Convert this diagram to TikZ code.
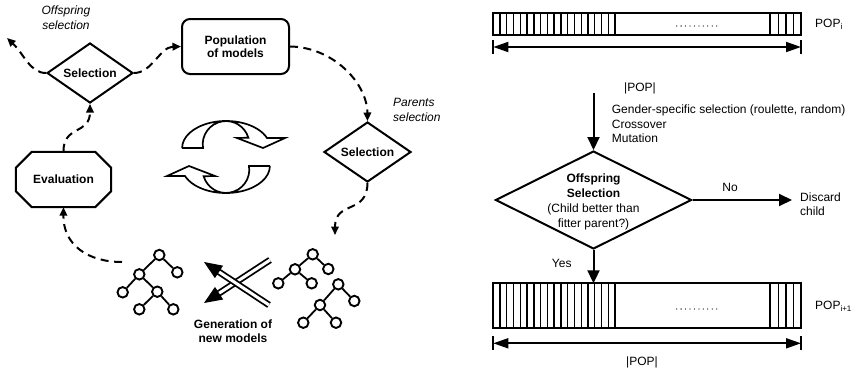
\documentclass[tikz,border=0pt]{standalone}
\usepackage{fontspec}
\setmainfont{Liberation Sans}
\usetikzlibrary{arrows.meta,shapes.geometric}
\begin{document}
\begin{tikzpicture}[x=1pt,y=1pt,
  lbl/.style={font=\fontsize{12}{14.5}\selectfont, inner sep=0pt, align=center},
  blbl/.style={inner sep=0pt, align=center, font=\fontsize{12}{13.5}\selectfont\bfseries},
  ilbl/.style={inner sep=0pt, font=\fontsize{12}{15}\selectfont\itshape},
  dia/.style={diamond, draw, line width=2pt, inner sep=0pt},
  conn/.style={line width=2pt, dash pattern=on 8pt off 5.5pt, -{Triangle[length=8.5pt,width=7.5pt]}},
  flow/.style={line width=2pt, -{Triangle[length=13pt,width=12pt]}},
  tn/.style={circle, draw, line width=1.9pt, minimum size=10.5pt, inner sep=0pt, fill=white},
  te/.style={line width=1.8pt},
  cyc/.style={draw, fill=white, line width=1.7pt, line join=miter},
  dbl/.style={draw, line width=1.8pt, double=white, double distance=3pt},
  barbox/.style={draw, line width=1.8pt, inner sep=0pt, outer sep=0pt, minimum width=307.7pt},
  hatch/.style={line width=1.3pt},
  span/.style={line width=1.8pt, {Triangle[length=15pt,width=10pt]}-{Triangle[length=15pt,width=10pt]}},
  endbar/.style={line width=2pt}]

\fill[white] (0,0) rectangle (855,-370);
\useasboundingbox (0,0) rectangle (855,-370);

% ---------------- evolutionary cycle ----------------
\node[dia, minimum width=86pt, minimum height=60pt] (sel1) at (90,-73) {};
\node[blbl] at (sel1) {Selection};

\node[draw, line width=2pt, rounded corners=8pt, minimum width=107pt,
      minimum height=55pt, blbl] (pop) at (235.5,-46.5) {Population\\of models};

\node[dia, minimum width=87pt, minimum height=60pt] (sel2) at (367.5,-152) {};
\node[blbl] at (sel2) {Selection};

\node[blbl, minimum width=95pt, minimum height=55pt] (eval) at (63.5,-179.5) {Evaluation};
\draw[line width=2pt, line join=miter]
  ([xshift=16pt]eval.north west) -- ([xshift=-16pt]eval.north east)
  -- ([yshift=-16pt]eval.north east) -- ([yshift=16pt]eval.south east)
  -- ([xshift=-16pt]eval.south east) -- ([xshift=16pt]eval.south west)
  -- ([yshift=16pt]eval.south west) -- ([yshift=-16pt]eval.north west) -- cycle;

\node[ilbl, align=center] (offlbl) at (66,-17.5) {Offspring\\selection};
\node[ilbl, align=left, anchor=west] (parlbl) at (393,-110) {Parents\\selection};

\coordinate (offtip) at (7,-38);
\coordinate (gentip) at (335,-235);
\coordinate (treeL) at (122,-262);

\draw[conn] (sel1.west) .. controls (30,-73) and (24,-54) .. (offtip);
\draw[conn] (sel1.east) .. controls (152,-73) and (160,-47) .. (pop.west);
\draw[conn] (pop.east) .. controls (332,-47) and (367,-82) .. (sel2.north);
\draw[conn] (sel2.south) .. controls (367,-215) and (335,-200) .. (gentip);
\draw[conn] (treeL) .. controls (88,-262) and (63,-245) .. (eval.south);
\draw[conn] (eval.north) .. controls (63,-125) and (90,-135) .. (sel1.south);

% circular arrows in the middle
\draw[cyc] (182,-148) -- (203,-148) arc[start angle=189, end angle=16.5, radius=23.3]
  -- (237,-138) -- (263,-148) -- (285,-138) -- (267,-138)
  arc[start angle=21.7, end angle=180, x radius=44, y radius=27] -- cycle;
\draw[cyc, rotate around={180:(226,-157)}] (182,-148) -- (203,-148)
  arc[start angle=189, end angle=16.5, radius=23.3]
  -- (237,-138) -- (263,-148) -- (285,-138) -- (267,-138)
  arc[start angle=21.7, end angle=180, x radius=44, y radius=27] -- cycle;

% model trees
\node[tn] (a1) at (159.3,-255) {};
\node[tn] (a2) at (139.3,-274.3) {};
\node[tn] (a3) at (177.3,-272.3) {};
\node[tn] (a4) at (122.7,-292.3) {};
\node[tn] (a5) at (157.3,-291.7) {};
\node[tn] (a6) at (139.3,-309.3) {};
\node[tn] (a7) at (173.3,-309.3) {};
\draw[te] (a1) -- (a2) (a1) -- (a3) (a2) -- (a4) (a2) -- (a5) (a5) -- (a6) (a5) -- (a7);

\node[tn] (b1) at (312.7,-254.3) {};
\node[tn] (b2) at (295,-269.3) {};
\node[tn] (b3) at (328.3,-269) {};
\node[tn] (b4) at (278.3,-283.3) {};
\node[tn] (b5) at (311.7,-283.3) {};
\draw[te] (b1) -- (b2) (b1) -- (b3) (b2) -- (b4) (b2) -- (b5);

\node[tn] (c1) at (338.3,-284.3) {};
\node[tn] (c2) at (320,-305) {};
\node[tn] (c3) at (354.3,-301) {};
\node[tn] (c4) at (303.3,-322.7) {};
\node[tn] (c5) at (336,-322.7) {};
\draw[te] (c1) -- (c2) (c1) -- (c3) (c2) -- (c4) (c2) -- (c5);

% crossed double arrows
\coordinate (xa0) at (270,-260);
\coordinate (xab) at (217.4,-294.3);
\coordinate (xb0) at (269,-305);
\coordinate (xbb) at (217.3,-270.8);
\path[dbl] (xa0) -- (xab);
\fill (204,-303) -- (223.2,-299.5) -- (215.0,-286.9) -- cycle;
\path[dbl] (xb0) -- (xbb);
\fill (204,-262) -- (223.1,-265.7) -- (214.9,-278.1) -- cycle;

\node[blbl, font=\fontsize{12}{14}\selectfont\bfseries] (genlbl) at (233,-331) {Generation of\\new models};

% ---------------- population scheme ----------------
\node[barbox, minimum height=22.3pt] (bar1) at (647.15,-23.85) {};
\foreach \k in {1,...,18} \draw[hatch] (493.3+\k*6.76,-12.7) -- (493.3+\k*6.76,-35);
\foreach \xx in {770,778.3,786,793.3} \draw[hatch] (\xx,-12.7) -- (\xx,-35);
\foreach \k in {0,...,9} \fill (676.7+\k*4.44,-26) circle (0.65);
\node[lbl, anchor=west] (pop1) at (815,-24) {POP\textsubscript{i}};

\coordinate (s1l) at (493.3,-47);
\coordinate (s1r) at (801,-47);
\draw[span] (s1l) -- (s1r);
\draw[endbar] ([yshift=7pt]s1l) -- ([yshift=-7pt]s1l);
\draw[endbar] ([yshift=7pt]s1r) -- ([yshift=-7pt]s1r);
\node[lbl] (siz1) at (640,-88) {|POP|};

\node[lbl, align=left, anchor=west] (ops) at (611.7,-124)
  {Gender-specific selection (roulette, random)\\Crossover\\Mutation};

\node[dia, minimum width=196pt, minimum height=98pt] (osel) at (593.5,-200) {};
\node[lbl, font=\fontsize{12}{14.8}\selectfont] (oseltxt) at (593.5,-202)
  {\textbf{Offspring}\\\textbf{Selection}\\(Child better than\\fitter parent?)};

\coordinate (gstart) at (593.5,-93);
\draw[flow] (gstart) -- (osel.north);

\coordinate (disc) at (792,-200);
\draw[flow] (osel.east) -- (disc);
\node[lbl] (nolbl) at (730,-187) {No};
\node[lbl, align=left, anchor=west] (disclbl) at (800,-204) {Discard\\child};

\node[barbox, minimum height=45pt] (bar2) at (647.15,-305.8) {};
\foreach \k in {1,...,18} \draw[hatch] (493.3+\k*6.76,-283.3) -- (493.3+\k*6.76,-328.3);
\foreach \xx in {770,778.3,786,793.3} \draw[hatch] (\xx,-283.3) -- (\xx,-328.3);
\foreach \k in {0,...,9} \fill (676.7+\k*4.44,-309) circle (0.65);
\node[lbl, anchor=west] (pop2) at (815,-306) {POP\textsubscript{i+1}};

\draw[flow] (osel.south) -- (osel.south |- bar2.north);
\node[lbl] (yeslbl) at (561.7,-263) {Yes};

\coordinate (s2l) at (493.3,-343.3);
\coordinate (s2r) at (801,-343.3);
\draw[span] (s2l) -- (s2r);
\draw[endbar] ([yshift=7pt]s2l) -- ([yshift=-7pt]s2l);
\draw[endbar] ([yshift=7pt]s2r) -- ([yshift=-7pt]s2r);
\node[lbl] (siz2) at (642,-362) {|POP|};

\end{tikzpicture}
\end{document}
